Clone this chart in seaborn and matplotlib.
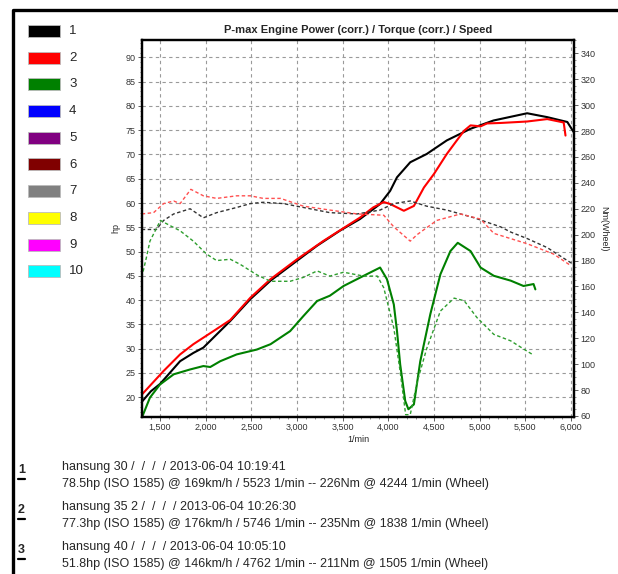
import pandas as pd
import seaborn as sns
import matplotlib.pyplot as plt
from matplotlib.lines import Line2D
from matplotlib.patches import Rectangle
from matplotlib.ticker import FuncFormatter, MultipleLocator

# run 1 (black) - power / torque
rpm1_p = [1300, 1400, 1500, 1720, 1865, 1975, 2270, 2490, 2710, 3000, 3220, 3470, 3690, 3910,
          4020, 4095, 4240, 4420, 4640, 4900, 5150, 5520, 5740, 5960, 6030]
hp1 = [19.0, 21.2, 22.7, 27.4, 29.1, 30.2, 35.7, 40.2, 44.0, 48.1, 51.2, 54.3, 56.7, 59.8,
       62.5, 65.3, 68.4, 70.1, 72.9, 75.3, 77.0, 78.5, 77.7, 76.7, 74.6]
rpm1_t = [1300, 1460, 1540, 1650, 1830, 1975, 2120, 2340, 2490, 2630, 2850, 3070, 3360, 3660,
          3910, 4060, 4240, 4420, 4640, 4940, 5230, 5340, 5520, 5740, 5960, 6030]
nm1 = [204, 204, 211, 216, 220, 213, 217, 221, 224, 225, 224, 221, 217, 216,
       219, 224, 226, 222, 219, 213, 206, 202, 197, 190, 180, 177]

# run 2 (red)
rpm2_p = [1300, 1540, 1720, 1865, 2085, 2270, 2490, 2710, 3000, 3290, 3690, 3835, 3950, 4020,
          4170, 4280, 4390, 4500, 4640, 4750, 4830, 4900, 5010, 5080, 5230, 5520, 5740, 5920, 5940]
hp2 = [20.5, 25.4, 28.8, 30.9, 33.6, 35.9, 40.5, 44.3, 48.4, 52.2, 57.0, 59.1, 60.2, 59.8,
       58.4, 59.4, 63.2, 66.0, 70.1, 72.9, 74.9, 76.0, 75.8, 76.4, 76.5, 76.8, 77.3, 76.6, 73.9]
rpm2_t = [1300, 1430, 1540, 1650, 1720, 1838, 1975, 2120, 2340, 2490, 2630, 2820, 3070, 3360,
          3660, 3950, 4060, 4240, 4315, 4530, 4790, 5010, 5155, 5520, 5810, 6000]
nm2 = [216, 217, 224, 226, 224, 235, 230, 228, 230, 230, 228, 228, 222, 219,
       216, 215, 206, 195, 200, 211, 216, 212, 201, 193, 185, 176]

# run 3 (green)
rpm3_p = [1300, 1390, 1500, 1650, 1830, 1975, 2050, 2160, 2340, 2560, 2710, 2925, 3070, 3220,
          3360, 3510, 3730, 3910, 3985, 4060, 4095, 4130, 4185, 4220, 4280, 4350, 4460, 4570,
          4680, 4760, 4900, 5010, 5155, 5340, 5480, 5590, 5610]
hp3 = [15.7, 19.9, 22.6, 24.7, 25.7, 26.4, 26.2, 27.4, 28.8, 29.8, 30.9, 33.6, 36.7, 39.8,
       40.9, 42.9, 45.0, 46.7, 44.3, 39.1, 33.6, 26.7, 19.2, 17.5, 18.5, 27.4, 37.1, 45.3,
       50.1, 51.8, 50.1, 46.7, 45.0, 44.0, 42.9, 43.3, 42.2]
rpm3_t = [1300, 1350, 1390, 1505, 1610, 1720, 1865, 2010, 2120, 2270, 2380, 2560, 2710, 2925,
          3070, 3220, 3360, 3510, 3730, 3880, 3950, 4060, 4130, 4190, 4240, 4315, 4420, 4570,
          4720, 4830, 4970, 5155, 5340, 5520, 5590]
nm3 = [167, 182, 195, 211, 207, 203, 195, 185, 180, 181, 177, 169, 164, 164,
       167, 172, 168, 171, 168, 168, 159, 128, 94, 61, 61, 86, 112, 141,
       151, 149, 136, 123, 118, 110, 107]

run_colors = ["#000000", "#ff0000", "#008000"]
torque_colors = ["#333333", "#ff5050", "#2e9e2e"]
legend_colors = ["#000000", "#ff0000", "#008000", "#0000ff", "#800080",
                 "#800000", "#808080", "#ffff00", "#ff00ff", "#00ffff"]
legend_labels = ["1", "2", "3", "4", "5", "6", "7", "8", "9", "10"]

run_titles = ["hansung 30 /  /  /  / 2013-06-04 10:19:41",
              "hansung 35 2 /  /  /  / 2013-06-04 10:26:30",
              "hansung 40 /  /  /  / 2013-06-04 10:05:10"]
run_info = ["78.5hp (ISO 1585) @ 169km/h / 5523 1/min -- 226Nm @ 4244 1/min (Wheel)",
            "77.3hp (ISO 1585) @ 176km/h / 5746 1/min -- 235Nm @ 1838 1/min (Wheel)",
            "51.8hp (ISO 1585) @ 146km/h / 4762 1/min -- 211Nm @ 1505 1/min (Wheel)"]

power = [pd.DataFrame({"rpm": r, "hp": h}) for r, h in
         [(rpm1_p, hp1), (rpm2_p, hp2), (rpm3_p, hp3)]]
torque = [pd.DataFrame({"rpm": r, "nm": n}) for r, n in
          [(rpm1_t, nm1), (rpm2_t, nm2), (rpm3_t, nm3)]]

sns.set_style("ticks")
plt.rcParams["font.family"] = ["Liberation Sans", "DejaVu Sans"]

W, H = 618, 574
fig = plt.figure(figsize=(W / 100, H / 100), dpi=100)


def fx(px):
    return px / W


def fy(py):
    return 1 - py / H


ax = fig.add_axes([fx(142), fy(417), fx(574) - fx(142), fy(39.5) - fy(417)])
ax2 = ax.twinx()

for i in range(3):
    sns.lineplot(data=power[i], x="rpm", y="hp", ax=ax, color=run_colors[i],
                 lw=1.5, estimator=None, sort=False)
    sns.lineplot(data=torque[i], x="rpm", y="nm", ax=ax2, color=torque_colors[i],
                 lw=1.0, estimator=None, sort=False, dashes=False)
    ax2.lines[-1].set_dashes([2.5, 1.8])

ax.set_xlim(1303, 6033)
ax.set_ylim(15.9, 93.7)
ax2.set_ylim(59.2, 350.7)
ax.set_xticks(range(1500, 6001, 500))
ax.set_yticks(range(20, 91, 5))
ax2.set_yticks(range(60, 341, 20))
ax.xaxis.set_minor_locator(MultipleLocator(100))
ax.yaxis.set_minor_locator(MultipleLocator(1))
ax2.yaxis.set_minor_locator(MultipleLocator(5))
ax.xaxis.set_major_formatter(FuncFormatter(lambda v, p: f"{int(v):,}"))
ax.grid(True, which="major", ls=(0, (3, 3)), color="#9a9a9a", lw=0.8)

for a in (ax, ax2):
    a.tick_params(which="major", labelsize=6.5, length=3, width=0.6, color="#444444",
                  labelcolor="#333333", pad=1.5)
    a.tick_params(which="minor", length=1.5, width=0.5, color="#666666")
    for s in a.spines.values():
        s.set_linewidth(1.6)
        s.set_color("#000000")

ax.set_xlabel("1/min", fontsize=6.5, labelpad=2)
ax.set_ylabel("hp", fontsize=6.5, labelpad=4)
ax2.set_ylabel("Nm(Wheel)", fontsize=6.5, rotation=270, labelpad=9)
ax.set_title("P-max Engine Power (corr.) / Torque (corr.) / Speed",
             fontsize=8, fontweight="bold", pad=5)

# frame lines on the left and top
fig.add_artist(Line2D([fx(13), fx(13), fx(618)], [fy(574), fy(10), fy(10)],
                      transform=fig.transFigure, color="black", lw=2.4))

# colour legend
for k, (c, lab) in enumerate(zip(legend_colors, legend_labels)):
    yc = 31 + k * 26.7
    fig.add_artist(Rectangle((fx(28), fy(yc + 6)), fx(32), fy(yc - 6) - fy(yc + 6),
                             transform=fig.transFigure, facecolor=c,
                             edgecolor="#bbbbbb", lw=0.6))
    fig.text(fx(69), fy(yc), lab, fontsize=9.5, va="center", ha="left")

# run descriptions
for k in range(3):
    y0 = 467 + k * 40
    fig.text(fx(18), fy(y0 + 3), str(k + 1), fontsize=9, fontweight="bold",
             va="center", ha="left")
    fig.add_artist(Line2D([fx(18), fx(25)], [fy(y0 + 12), fy(y0 + 12)],
                          transform=fig.transFigure, color="black", lw=1.6))
    fig.text(fx(62), fy(y0), run_titles[k], fontsize=9, va="center", ha="left")
    fig.text(fx(62), fy(y0 + 17), run_info[k], fontsize=9, va="center", ha="left")

fig.savefig("out.png", dpi=100)
